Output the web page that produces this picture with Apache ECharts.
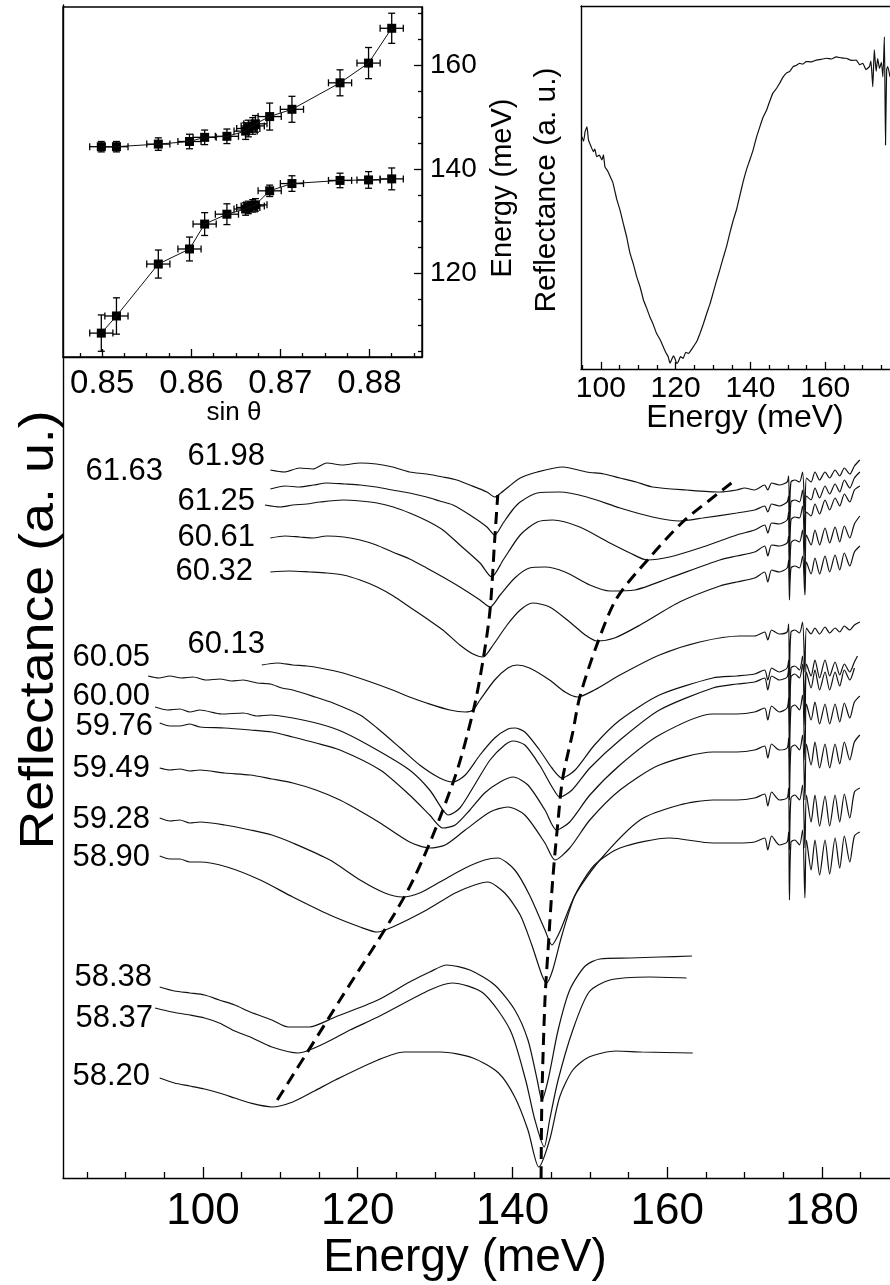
<!DOCTYPE html>
<html>
<head>
<meta charset="utf-8">
<script src="https://cdn.jsdelivr.net/npm/echarts@6.0.0/dist/echarts.min.js"></script>
<style>
  html, body { margin: 0; padding: 0; background: #fff; }
  #chart { width: 890px; height: 1285px; }
</style>
</head>
<body>
<div id="chart"></div>
<script>
// ---- main panel: reflectance spectra [energy (meV), reflectance (a.u., offset)] ----
const curveLabels = ['61.98', '61.63', '61.25', '60.61', '60.32', '60.13', '60.05', '60.00',
  '59.76', '59.49', '59.28', '58.90', '58.38', '58.37', '58.20'];

const spec6198 = [[108.7,70.8],[110.5,70.6],[112.5,71.0],[114.2,70.9],[116.0,71.5],[118.0,71.3],[120.3,71.5],[122.4,71.4],[124.5,71.1],[126.7,70.6],[128.9,70.4],[131.0,70.1],[132.8,69.8],[134.5,69.3],[136.7,68.6],[137.7,68.1],[138.5,68.5],[139.3,69.0],[141.0,70.0],[143.2,70.6],[146.5,71.1],[149.6,70.6],[151.8,70.4],[153.9,70.0],[156.0,69.6],[158.1,69.1],[162.5,68.8],[166.8,68.6],[169.0,68.8],[170.0,69.0],[171.3,68.8],[172.6,69.3],[173.0,68.8],[173.5,69.5],[174.5,69.3],[175.5,69.6],[175.7,70.2],[175.8,66.3],[176.0,69.6],[176.5,69.8],[177.1,69.6],[177.5,70.6],[177.8,66.6],[178.0,70.0],[178.6,69.6],[179.1,70.6],[179.7,69.8],[180.4,70.6],[181.0,70.0],[181.7,70.8],[182.3,70.2],[182.9,71.0],[183.6,70.4],[184.2,71.2],[184.9,71.8]];
const spec6163 = [[108.7,68.9],[110.6,69.2],[112.5,69.1],[114.3,69.3],[116.0,69.5],[118.3,69.4],[120.3,69.3],[122.4,69.1],[124.5,68.8],[126.7,68.5],[128.9,68.1],[130.6,67.7],[132.3,67.3],[134.5,66.3],[136.7,65.1],[137.7,64.3],[138.8,65.5],[140.0,66.8],[141.0,67.6],[143.2,68.5],[146.1,68.6],[149.6,68.1],[153.9,67.0],[158.1,66.1],[161.6,65.7],[164.6,66.0],[169.0,66.5],[171.3,66.8],[172.6,67.2],[173.0,66.6],[173.5,67.4],[174.5,67.2],[175.5,67.6],[175.7,68.2],[175.8,63.8],[176.0,67.6],[176.5,67.8],[177.1,67.6],[177.5,68.8],[177.8,64.3],[178.0,68.2],[178.6,67.8],[179.1,69.0],[179.7,68.0],[180.4,69.2],[181.0,68.4],[181.7,69.4],[182.3,68.6],[182.9,69.8],[183.6,69.0],[184.2,70.0],[184.9,70.6]];
const spec6125 = [[108.0,67.3],[110.0,67.1],[111.6,67.3],[113.4,67.4],[115.1,67.6],[118.1,67.8],[120.3,67.7],[122.5,67.5],[124.6,67.1],[126.7,66.5],[129.0,65.7],[131.0,64.8],[133.2,63.3],[135.8,61.5],[137.3,60.1],[138.8,61.8],[141.0,64.3],[143.2,65.6],[145.2,65.8],[148.7,65.1],[152.6,63.5],[155.2,62.5],[157.4,61.8],[160.3,62.1],[164.2,63.0],[169.0,64.3],[171.3,64.8],[172.6,65.3],[173.0,64.5],[173.5,65.5],[174.5,65.4],[175.5,65.8],[175.7,66.6],[175.8,61.8],[176.0,65.8],[176.5,66.1],[177.1,66.0],[177.5,67.2],[177.8,62.3],[178.0,66.6],[178.6,66.2],[179.1,67.4],[179.7,66.4],[180.4,67.8],[181.0,66.8],[181.7,68.0],[182.3,67.2],[182.9,68.4],[183.6,67.6],[184.2,68.8],[184.9,69.2]];
const spec6061 = [[108.7,64.0],[110.6,64.2],[112.5,64.1],[114.2,64.0],[116.0,64.2],[118.2,64.1],[120.3,63.8],[122.4,63.3],[124.5,62.6],[126.7,61.9],[128.9,61.0],[131.0,60.1],[133.2,59.1],[135.8,57.8],[137.1,57.1],[138.4,58.3],[140.3,60.0],[142.2,61.0],[144.2,61.1],[146.8,60.6],[150.0,59.3],[152.6,58.7],[155.8,58.8],[160.3,60.0],[166.8,61.8],[169.0,62.2],[171.3,62.6],[172.6,63.2],[173.0,62.2],[173.5,63.3],[174.5,63.2],[175.5,63.5],[175.7,64.2],[175.8,59.3],[176.0,63.5],[176.5,63.8],[177.1,63.6],[177.5,64.8],[177.8,59.8],[178.0,64.3],[178.6,63.3],[179.1,64.8],[179.7,63.3],[180.4,65.0],[181.0,63.5],[181.7,65.1],[182.3,63.6],[182.9,65.2],[183.6,64.0],[184.2,65.4],[184.9,66.2]];
const spec6032 = [[108.7,60.6],[111.2,60.7],[113.8,60.6],[116.0,60.5],[118.1,60.3],[120.3,59.8],[122.5,59.1],[124.6,58.2],[126.7,57.1],[129.0,55.9],[131.0,54.8],[133.2,53.3],[134.9,52.4],[136.2,52.1],[137.5,53.3],[139.3,55.3],[141.0,56.8],[142.6,57.5],[144.8,57.1],[147.4,55.6],[149.4,54.3],[150.9,53.7],[153.2,54.0],[156.5,55.3],[161.6,57.6],[166.8,59.2],[169.0,59.6],[171.3,60.0],[172.6,60.6],[173.0,59.6],[173.5,60.8],[174.5,60.6],[175.5,61.0],[175.7,61.8],[175.8,57.8],[176.0,61.0],[176.5,61.2],[177.1,61.0],[177.5,62.2],[177.8,58.3],[178.0,61.6],[178.6,60.4],[179.1,62.0],[179.7,60.4],[180.4,62.2],[181.0,60.6],[181.7,62.3],[182.3,60.8],[182.9,62.5],[183.6,61.2],[184.2,62.6],[184.9,63.2]];
const spec6013 = [[107.6,51.3],[109.6,51.5],[111.6,51.3],[113.4,51.2],[115.1,51.0],[118.1,50.5],[121.3,49.7],[124.5,48.8],[126.7,48.1],[128.9,47.5],[131.9,46.8],[133.9,46.6],[134.9,46.8],[135.8,47.8],[137.7,49.8],[139.4,51.0],[140.6,51.3],[142.2,51.0],[144.8,49.8],[146.8,48.6],[148.4,48.1],[150.6,48.8],[153.9,50.3],[159.0,52.3],[164.2,53.6],[169.4,54.2],[171.3,54.2],[172.6,54.6],[173.0,53.8],[173.5,54.8],[174.5,54.4],[175.5,54.6],[175.7,55.4],[175.8,50.3],[176.0,54.6],[176.5,54.8],[177.1,54.5],[177.5,55.6],[177.8,50.6],[178.0,55.0],[178.6,54.4],[179.1,55.0],[179.7,54.4],[180.4,55.1],[181.0,54.5],[181.7,55.0],[182.3,54.6],[182.9,55.2],[183.6,54.8],[184.2,55.3],[184.9,55.6]];
const spec6005 = [[92.9,50.2],[94.3,50.0],[95.7,50.2],[97.2,50.0],[98.7,50.1],[100.4,49.8],[102.2,49.9],[103.7,49.7],[105.2,49.8],[107.0,49.5],[108.7,49.4],[110.2,49.0],[111.6,48.8],[114.5,48.1],[116.8,47.5],[120.3,46.3],[122.5,45.0],[125.5,43.0],[128.0,41.3],[130.6,40.0],[132.3,39.6],[133.9,40.3],[135.8,42.3],[137.7,44.0],[139.4,44.9],[140.3,45.0],[141.6,44.6],[143.5,42.8],[145.1,41.0],[146.4,40.0],[148.1,40.8],[150.6,43.3],[153.9,45.8],[159.0,48.3],[165.9,50.0],[169.0,50.2],[171.3,50.4],[172.6,50.8],[173.0,49.8],[173.5,51.0],[174.5,50.6],[175.5,51.0],[175.7,51.8],[175.8,46.3],[176.0,51.0],[176.5,51.2],[177.1,50.8],[177.5,52.2],[177.8,46.6],[178.0,51.4],[178.6,50.2],[179.1,51.8],[179.7,50.0],[180.4,51.8],[181.0,50.2],[181.7,51.6],[182.3,50.3],[182.9,51.4],[183.6,50.6],[184.2,51.6],[184.6,52.2]];
const spec6000 = [[93.8,47.1],[95.4,46.8],[97.0,46.9],[98.3,46.6],[99.6,46.8],[102.4,46.4],[105.2,46.5],[107.0,46.2],[108.7,46.3],[111.6,46.0],[115.1,45.4],[118.1,44.6],[122.5,42.8],[126.7,40.8],[129.3,38.8],[131.0,36.8],[131.7,36.3],[133.2,37.0],[135.1,39.3],[137.1,41.8],[139.0,43.3],[140.1,43.7],[141.6,43.3],[143.5,41.3],[145.2,39.0],[146.1,38.1],[147.7,38.8],[150.0,41.0],[153.9,43.8],[159.0,46.8],[165.9,49.0],[169.0,49.4],[171.3,49.6],[172.6,50.0],[173.0,48.8],[173.5,50.2],[174.5,49.8],[175.5,50.1],[175.7,51.0],[175.8,44.8],[176.0,50.1],[176.5,50.4],[177.1,50.0],[177.5,51.4],[177.8,45.3],[178.0,50.6],[178.6,49.0],[179.1,50.8],[179.7,48.8],[180.4,50.6],[181.0,48.8],[181.7,50.6],[182.3,49.2],[182.9,50.8],[183.6,49.8],[184.2,51.0]];
const spec5976 = [[94.4,45.5],[95.7,45.2],[97.0,45.2],[98.3,45.4],[99.6,45.1],[102.8,45.0],[106.1,44.8],[108.9,44.6],[111.6,44.1],[114.6,43.5],[117.7,42.8],[122.9,40.8],[126.7,38.3],[129.3,36.3],[131.0,35.0],[132.6,35.3],[134.5,36.8],[136.4,38.5],[138.4,39.6],[140.1,40.1],[142.0,39.3],[144.2,36.8],[145.7,34.8],[147.4,35.6],[150.0,38.3],[153.9,41.3],[159.0,44.3],[165.9,46.4],[169.0,46.4],[171.3,46.6],[172.6,47.0],[173.0,45.8],[173.5,47.2],[174.5,46.6],[175.5,47.0],[175.7,48.0],[175.8,41.3],[176.0,47.0],[176.5,47.3],[177.1,46.8],[177.5,48.3],[177.8,41.8],[178.0,47.4],[178.6,45.8],[179.1,47.6],[179.7,45.4],[180.4,47.4],[181.0,45.4],[181.7,47.4],[182.3,45.6],[182.9,47.5],[183.6,46.0],[184.2,47.6],[184.9,48.2]];
const spec5949 = [[94.4,41.0],[95.7,40.8],[97.0,40.9],[98.3,40.7],[99.6,40.8],[102.8,40.5],[106.1,40.3],[108.9,39.9],[111.6,39.5],[114.6,38.8],[117.7,37.8],[120.3,36.7],[122.9,35.5],[126.7,33.6],[129.3,33.0],[131.3,33.3],[133.9,34.8],[137.1,36.6],[139.4,37.1],[141.6,36.3],[144.2,33.5],[145.5,31.8],[147.4,33.0],[150.0,35.8],[153.9,38.8],[159.0,41.3],[165.9,42.6],[169.0,42.6],[171.3,42.8],[172.6,43.2],[173.0,42.0],[173.5,43.4],[174.5,42.8],[175.5,43.0],[175.7,44.0],[175.8,37.8],[176.0,43.0],[176.5,43.3],[177.1,42.8],[177.5,44.3],[177.8,37.8],[178.0,43.4],[178.6,41.3],[179.1,43.6],[179.7,41.0],[180.4,43.4],[181.0,41.0],[181.7,43.4],[182.3,41.4],[182.9,43.6],[183.6,41.8],[184.2,43.6],[184.9,44.3]];
const spec5928 = [[94.4,36.0],[95.7,35.7],[97.0,35.8],[98.3,35.5],[99.6,35.6],[102.8,35.3],[106.1,34.8],[108.9,34.3],[111.6,33.5],[116.4,31.8],[120.3,29.8],[123.5,28.5],[125.8,28.1],[128.0,28.5],[130.6,29.6],[133.9,31.0],[136.4,31.8],[138.1,32.0],[140.3,30.8],[142.2,28.3],[144.2,24.8],[145.1,23.3],[146.1,24.6],[148.1,28.3],[151.3,31.8],[156.5,35.8],[161.6,37.3],[165.9,37.8],[169.0,37.8],[171.3,38.0],[172.6,38.4],[173.0,37.2],[173.5,38.6],[174.5,37.8],[175.5,38.0],[175.7,39.0],[175.8,32.8],[176.0,38.0],[176.5,38.3],[177.1,37.8],[177.5,39.3],[177.8,33.0],[178.0,38.3],[178.6,35.6],[179.1,38.3],[179.7,35.2],[180.4,38.2],[181.0,35.2],[181.7,38.3],[182.3,35.6],[182.9,38.4],[183.6,36.0],[184.2,38.6],[184.9,39.0]];
const spec5890 = [[94.4,32.2],[95.7,31.9],[97.0,31.9],[98.3,31.6],[99.6,31.6],[103.1,31.1],[107.4,29.8],[111.6,28.1],[116.4,26.3],[120.3,25.1],[122.5,24.6],[124.5,25.1],[128.9,26.8],[132.6,28.5],[135.1,29.3],[136.8,29.6],[139.0,28.5],[141.0,26.3],[142.5,23.3],[143.8,20.3],[144.4,19.5],[145.2,20.8],[146.4,24.3],[148.1,28.3],[150.6,31.3],[153.9,33.0],[160.3,34.0],[165.9,33.5],[169.0,33.5],[171.3,33.6],[172.6,34.0],[173.0,32.8],[173.5,34.2],[174.5,33.3],[175.5,33.6],[175.7,34.6],[175.8,27.8],[176.0,33.6],[176.5,33.8],[177.1,33.3],[177.5,34.8],[177.8,28.0],[178.0,33.8],[178.6,30.8],[179.1,33.8],[179.7,30.3],[180.4,33.8],[181.0,30.4],[181.7,34.0],[182.3,31.0],[182.9,34.2],[183.6,31.6],[184.2,34.2],[184.9,34.6]];
const spec5838 = [[94.4,19.1],[96.3,18.7],[98.3,18.5],[100.2,18.3],[102.1,17.8],[104.1,17.3],[106.1,16.6],[108.9,15.8],[111.0,15.1],[113.7,15.1],[117.1,16.1],[122.6,17.8],[126.7,19.6],[129.3,20.6],[131.5,21.3],[134.5,20.8],[137.7,19.3],[140.3,16.8],[142.0,13.8],[143.2,9.8],[143.8,7.8],[144.6,9.8],[145.9,14.8],[147.4,18.8],[149.4,21.2],[151.3,21.9],[155.2,22.0],[159.0,22.1],[163.2,22.2]];
const spec5837 = [[93.8,17.0],[96.0,16.6],[98.3,16.3],[100.2,16.0],[102.1,15.5],[104.1,14.7],[106.1,14.1],[108.9,13.1],[112.3,12.5],[115.8,13.5],[119.0,14.8],[122.6,16.1],[129.3,18.8],[132.2,19.5],[136.2,18.5],[139.7,14.8],[141.7,9.8],[142.9,5.8],[144.1,3.1],[144.8,5.8],[145.9,9.8],[147.8,14.8],[149.9,18.6],[152.6,19.8],[157.8,20.1],[162.5,20.0]];
const spec5820 = [[94.4,10.0],[96.3,9.5],[98.3,9.2],[100.2,8.9],[102.1,8.5],[104.1,8.0],[106.1,7.5],[108.9,7.1],[111.6,7.6],[114.4,8.7],[117.1,9.8],[122.6,11.8],[126.0,12.6],[130.7,12.6],[134.9,12.0],[138.2,10.5],[140.3,8.1],[142.0,4.8],[143.4,1.1],[144.8,3.8],[146.1,8.1],[147.8,10.8],[149.9,12.1],[153.4,12.7],[156.7,12.6],[163.3,12.5]];

// dashed guide lines through the two dips
const lowerDipLine = [[109.6,7.8],[117.7,17.8],[126.7,29.1],[132.3,39.5],[134.9,46.6],[136.2,51.8],[137.1,56.8],[137.7,63.8],[138.1,68.3]];
const upperDipLine = [[143.7,0.0],[143.8,7.8],[144.2,17.8],[144.6,22.8],[145.2,29.8],[145.9,35.8],[146.5,40.0],[147.8,44.6],[148.7,48.1],[150.9,53.3],[153.5,58.0],[157.8,62.1],[162.0,65.6],[165.5,67.8],[168.3,69.5]];

// ---- top-left inset: dispersion vs sin(theta) ----
const sinTheta = [0.8499, 0.8516, 0.8563, 0.8598, 0.8615, 0.8640, 0.8661, 0.8664, 0.8669, 0.8672, 0.8688, 0.8713, 0.8767, 0.8799, 0.8825];
const upperE   = [144.3, 144.3, 144.8, 145.3, 146.1, 146.3, 147.3, 147.8, 148.3, 148.7, 150.1, 151.5, 156.6, 160.4, 167.1];
const upperErr = [1.0, 1.0, 1.2, 1.4, 1.4, 1.4, 1.6, 1.6, 1.6, 1.6, 2.6, 2.5, 2.5, 3.0, 2.9];
const lowerE   = [108.4, 111.7, 121.7, 124.6, 129.4, 131.3, 132.3, 132.6, 132.9, 133.1, 135.8, 137.2, 137.8, 137.9, 138.1];
const lowerErr = [3.5, 3.5, 2.7, 2.3, 2.2, 2.0, 1.2, 1.2, 1.2, 1.2, 1.1, 1.5, 1.4, 1.6, 2.1];
const sinErr = 0.0013;

// ---- top-right inset: single reflectance spectrum ----
const insetSpectrum = [[94.9,64.0],[95.4,62.8],[95.8,65.4],[96.3,66.7],[96.7,63.1],[97.3,61.5],[98.0,59.9],[98.4,60.6],[98.9,58.5],[99.6,58.9],[100.3,57.6],[100.7,59.0],[101.1,55.7],[101.8,54.6],[102.5,53.0],[103.2,51.4],[103.8,48.8],[104.3,46.6],[105.1,43.9],[106.0,40.1],[106.9,36.4],[107.8,31.9],[108.7,28.9],[109.6,25.4],[110.5,22.6],[111.4,19.0],[112.2,16.9],[113.1,14.4],[114.0,12.3],[114.9,9.8],[115.8,8.2],[116.7,6.1],[117.4,4.5],[118.0,3.4],[118.5,1.6],[118.9,2.5],[119.4,3.6],[119.8,2.9],[120.3,1.5],[120.7,2.0],[121.3,3.4],[122.0,2.9],[122.7,4.6],[123.4,4.3],[124.7,6.1],[125.6,7.5],[126.5,9.8],[127.4,12.4],[128.3,15.3],[129.2,18.0],[130.0,20.9],[130.9,24.2],[131.8,27.3],[132.7,30.6],[133.6,33.7],[134.5,37.5],[135.4,41.0],[136.3,44.0],[137.1,47.5],[138.0,51.4],[138.9,54.8],[139.8,57.5],[140.7,60.3],[141.6,63.8],[142.5,66.7],[143.4,69.4],[144.3,71.3],[145.2,73.9],[146.0,76.0],[146.9,77.2],[147.8,78.7],[148.7,80.4],[149.6,81.5],[150.5,82.0],[151.4,83.3],[152.2,83.6],[153.1,84.2],[154.0,84.0],[154.9,84.7],[156.2,84.6],[157.6,85.1],[158.9,85.3],[160.3,85.6],[161.6,85.4],[162.9,86.0],[164.3,85.7],[165.6,85.6],[167.0,85.0],[168.3,85.1],[169.2,83.8],[170.0,84.2],[170.9,82.5],[171.8,83.3],[172.2,84.8],[172.7,77.8],[173.1,87.9],[173.6,82.0],[174.0,85.5],[174.5,82.8],[175.0,84.5],[175.4,80.5],[175.8,91.5],[176.1,61.7],[176.4,82.5],[176.7,83.3],[177.3,80.5]];

// tick values
const mainMajor = [100, 120, 140, 160, 180];
const mainMinor = [85, 90, 95, 105, 110, 115, 125, 130, 135, 145, 150, 155, 165, 170, 175, 185];
const sinMajor = [0.85, 0.86, 0.87, 0.88];
const sinMinor = [0.8475, 0.8525, 0.855, 0.8575, 0.8625, 0.865, 0.8675, 0.8725, 0.875, 0.8775, 0.8825, 0.885];
const dispMajor = [120, 140, 160];
const dispMinor = [105, 110, 115, 125, 130, 135, 145, 150, 155, 165, 170];
const insetMajor = [100, 120, 140, 160];
const insetMinor = [95, 105, 110, 115, 125, 130, 135, 145, 150, 155, 165, 170, 175];

const FONT = '"Liberation Sans", Arial, Helvetica, sans-serif';
const spectra = [spec6198, spec6163, spec6125, spec6061, spec6032, spec6013, spec6005, spec6000,
  spec5976, spec5949, spec5928, spec5890, spec5838, spec5837, spec5820];

// label anchors (right edge, middle) in page pixels
const labelPos = [[265,456],[163,471],[255,501],[255,537],[253,571],[265,644],[150,657],[150,696],
  [153,726],[150,768],[150,819],[150,857],[152,977],[153,1018],[150,1076]];

const chart = echarts.init(document.getElementById('chart'), null, { renderer: 'canvas' });

function errRender(params, api) {
  const x = api.value(0), y = api.value(1), ex = api.value(2), ey = api.value(3);
  const c = api.coord([x, y]);
  const l = api.coord([x - ex, y])[0], r = api.coord([x + ex, y])[0];
  const t = api.coord([x, y + ey])[1], b = api.coord([x, y - ey])[1];
  const cap = 3.5, hs = 4.5;
  const st = { stroke: '#000', lineWidth: 1.3 };
  return {
    type: 'group',
    children: [
      { type: 'line', shape: { x1: l, y1: c[1], x2: r, y2: c[1] }, style: st },
      { type: 'line', shape: { x1: l, y1: c[1] - cap, x2: l, y2: c[1] + cap }, style: st },
      { type: 'line', shape: { x1: r, y1: c[1] - cap, x2: r, y2: c[1] + cap }, style: st },
      { type: 'line', shape: { x1: c[0], y1: t, x2: c[0], y2: b }, style: st },
      { type: 'line', shape: { x1: c[0] - cap, y1: t, x2: c[0] + cap, y2: t }, style: st },
      { type: 'line', shape: { x1: c[0] - cap, y1: b, x2: c[0] + cap, y2: b }, style: st },
      { type: 'rect', shape: { x: c[0] - hs, y: c[1] - hs, width: 2 * hs, height: 2 * hs }, style: { fill: '#000' } }
    ]
  };
}

const series = [];
spectra.forEach(function (d) {
  series.push({
    type: 'line', xAxisIndex: 0, yAxisIndex: 0, data: d,
    symbol: 'none', silent: true, smooth: 0.25,
    lineStyle: { color: '#111', width: 1.2 }
  });
});
[lowerDipLine, upperDipLine].forEach(function (d) {
  series.push({
    type: 'line', xAxisIndex: 0, yAxisIndex: 0, data: d,
    symbol: 'none', silent: true, smooth: 0.3,
    lineStyle: { color: '#000', width: 3, type: [12, 7] }
  });
});

// dispersion inset
[upperE, lowerE].forEach(function (arr, k) {
  const errs = k === 0 ? upperErr : lowerErr;
  series.push({
    type: 'line', xAxisIndex: 2, yAxisIndex: 1, symbol: 'none', silent: true,
    data: sinTheta.map(function (s, i) { return [s, arr[i]]; }),
    lineStyle: { color: '#111', width: 1 }
  });
  series.push({
    type: 'custom', xAxisIndex: 2, yAxisIndex: 1, silent: true,
    encode: { x: 0, y: 1 },
    data: sinTheta.map(function (s, i) { return [s, arr[i], sinErr, errs[i]]; }),
    renderItem: errRender
  });
});

// spectrum inset
series.push({
  type: 'line', xAxisIndex: 4, yAxisIndex: 3, data: insetSpectrum,
  symbol: 'none', silent: true, smooth: 0.15,
  lineStyle: { color: '#111', width: 1.2 }
});

const graphics = curveLabels.map(function (t, i) {
  return {
    type: 'text', x: labelPos[i][0], y: labelPos[i][1],
    style: { text: t, font: '31px ' + FONT, fill: '#000', align: 'right', verticalAlign: 'middle' }
  };
});
graphics.push(
  { type: 'text', x: 40, y: 630, rotation: Math.PI / 2, scaleX: 1.12,
    style: { text: 'Reflectance (a. u.)', font: '48px ' + FONT, fill: '#000', align: 'center', verticalAlign: 'middle' } },
  { type: 'text', x: 465, y: 1258,
    style: { text: 'Energy (meV)', font: '46px ' + FONT, fill: '#000', align: 'center', verticalAlign: 'middle' } },
  { type: 'text', x: 234, y: 413,
    style: { text: 'sin θ', font: '26px ' + FONT, fill: '#000', align: 'center', verticalAlign: 'middle' } },
  { type: 'text', x: 503, y: 188, rotation: Math.PI / 2,
    style: { text: 'Energy (meV)', font: '29px ' + FONT, fill: '#000', align: 'center', verticalAlign: 'middle' } },
  { type: 'text', x: 547, y: 190, rotation: Math.PI / 2,
    style: { text: 'Reflectance (a. u.)', font: '30px ' + FONT, fill: '#000', align: 'center', verticalAlign: 'middle' } },
  { type: 'text', x: 745, y: 418,
    style: { text: 'Energy (meV)', font: '32px ' + FONT, fill: '#000', align: 'center', verticalAlign: 'middle' } }
);

const axisLine = { show: true, lineStyle: { color: '#000', width: 1.4 } };
const tickStyle = { color: '#000', width: 1.3 };

const option = {
  animation: false,
  backgroundColor: '#fff',
  grid: [
    { left: 63, top: 5, width: 827, height: 1173 },
    { left: 63, top: 7, width: 359, height: 350, show: true, borderColor: '#000', borderWidth: 1.4, backgroundColor: '#fff' },
    { left: 581, top: 6, width: 309, height: 363 }
  ],
  xAxis: [
    { gridIndex: 0, type: 'value', min: 81.9, max: 188.8, position: 'bottom',
      axisLine: axisLine, splitLine: { show: false },
      axisTick: { inside: true, length: 11, customValues: mainMajor, lineStyle: tickStyle },
      axisLabel: { customValues: mainMajor, margin: 12, fontSize: 44, fontFamily: FONT, color: '#000' } },
    { gridIndex: 0, type: 'value', min: 81.9, max: 188.8, position: 'bottom',
      axisLine: { show: false }, splitLine: { show: false }, axisLabel: { show: false },
      axisTick: { inside: true, length: 6, customValues: mainMinor, lineStyle: tickStyle } },
    { gridIndex: 1, type: 'value', min: 0.8456, max: 0.8859, position: 'bottom',
      axisLine: axisLine, splitLine: { show: false },
      axisTick: { inside: true, length: 8, customValues: sinMajor, lineStyle: tickStyle },
      axisLabel: { customValues: sinMajor, margin: 10, fontSize: 33, fontFamily: FONT, color: '#000',
        formatter: function (v) { return v.toFixed(2); } } },
    { gridIndex: 1, type: 'value', min: 0.8456, max: 0.8859, position: 'bottom',
      axisLine: { show: false }, splitLine: { show: false }, axisLabel: { show: false },
      axisTick: { inside: true, length: 4, customValues: sinMinor, lineStyle: tickStyle } },
    { gridIndex: 2, type: 'value', min: 94.7, max: 177.3, position: 'bottom',
      axisLine: axisLine, splitLine: { show: false },
      axisTick: { inside: true, length: 7, customValues: insetMajor, lineStyle: tickStyle },
      axisLabel: { customValues: insetMajor, margin: 5, fontSize: 30, fontFamily: FONT, color: '#000' } },
    { gridIndex: 2, type: 'value', min: 94.7, max: 177.3, position: 'bottom',
      axisLine: { show: false }, splitLine: { show: false }, axisLabel: { show: false },
      axisTick: { inside: true, length: 4, customValues: insetMinor, lineStyle: tickStyle } },
    { gridIndex: 2, type: 'value', min: 94.7, max: 177.3, position: 'top',
      axisLine: axisLine, splitLine: { show: false }, axisLabel: { show: false }, axisTick: { show: false } }
  ],
  yAxis: [
    { gridIndex: 0, type: 'value', min: 0, max: 117.3,
      axisLine: axisLine, axisTick: { show: false }, axisLabel: { show: false }, splitLine: { show: false } },
    { gridIndex: 1, type: 'value', min: 103.8, max: 171.2, position: 'right',
      axisLine: axisLine, splitLine: { show: false },
      axisTick: { inside: true, length: 8, customValues: dispMajor, lineStyle: tickStyle },
      axisLabel: { customValues: dispMajor, margin: 8, fontSize: 28, fontFamily: FONT, color: '#000' } },
    { gridIndex: 1, type: 'value', min: 103.8, max: 171.2, position: 'right',
      axisLine: { show: false }, splitLine: { show: false }, axisLabel: { show: false },
      axisTick: { inside: true, length: 4, customValues: dispMinor, lineStyle: tickStyle } },
    { gridIndex: 2, type: 'value', min: 0, max: 100,
      axisLine: axisLine, axisTick: { show: false }, axisLabel: { show: false }, splitLine: { show: false } }
  ],
  graphic: graphics,
  series: series
};

chart.setOption(option);
</script>
</body>
</html>
